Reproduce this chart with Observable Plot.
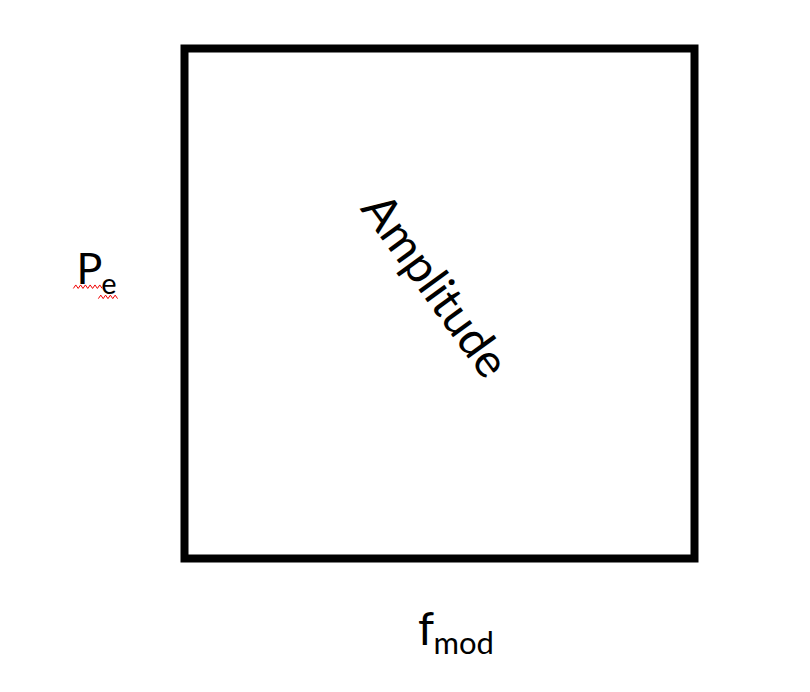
<!DOCTYPE html>
<html>
<head>
<meta charset="utf-8">
<script src="https://cdn.jsdelivr.net/npm/d3@7"></script>
<script src="https://cdn.jsdelivr.net/npm/@observablehq/plot@0.6"></script>
<style>
  html, body { margin: 0; padding: 0; background: #fff; }
  svg text { font-family: Lato, "Open Sans", sans-serif; }
</style>
</head>
<body>
<div id="chart"></div>
<script>
// Annotation texts and their anchor positions (in the frame's unit coordinates)
const centerLabel = ["Amplitude"];
const centerPos = [[0.490, 0.534]];
const yLabelParts = ["P", "e"];
const yLabelPos = [[-0.212, 0.539], [-0.163, 0.519]];
const yLabelSizes = [43, 29];
const xLabelParts = ["f", "mod"];
const xLabelPos = [[0.458, -0.169], [0.488, -0.187]];
const xLabelSizes = [46, 31];

const yData = yLabelParts.map((t, i) => ({t, x: yLabelPos[i][0], y: yLabelPos[i][1], s: yLabelSizes[i]}));
const xData = xLabelParts.map((t, i) => ({t, x: xLabelPos[i][0], y: xLabelPos[i][1], s: xLabelSizes[i]}));
const cData = centerLabel.map((t, i) => ({t, x: centerPos[i][0], y: centerPos[i][1]}));

const chart = Plot.plot({
  width: 810,
  height: 692,
  marginLeft: 184,
  marginRight: 116,
  marginTop: 48,
  marginBottom: 134,
  x: {domain: [0, 1], axis: null},
  y: {domain: [0, 1], axis: null},
  style: {background: "white", overflow: "visible"},
  marks: [
    Plot.frame({stroke: "black", strokeWidth: 8}),
    Plot.text(cData, {x: "x", y: "y", text: "t", rotate: 54, fontSize: 47, fill: "black", textAnchor: "middle", lineAnchor: "middle"}),
    ...yData.map(d => Plot.text([d], {x: "x", y: "y", text: "t", fontSize: d.s, fill: "black", textAnchor: "start", lineAnchor: "bottom"})),
    ...xData.map(d => Plot.text([d], {x: "x", y: "y", text: "t", fontSize: d.s, fill: "black", textAnchor: "start", lineAnchor: "bottom"}))
  ]
});
document.getElementById("chart").appendChild(chart);

// spell-check style red wavy underline under the P_e label (decoration only)
const svg = d3.select(chart);
svg.selectAll("text").filter(function() { return yLabelParts.includes(this.textContent); }).each(function(d, i, nodes) {
  const size = yLabelSizes[yLabelParts.indexOf(this.textContent)];
  const b = this.getBBox();
  const ctm = this.getCTM();
  const x0 = b.x + ctm.e - 3, x1 = b.x + b.width + ctm.e + 2;
  const baseline = b.y + b.height + ctm.f - 0.213 * size;
  const lo = baseline + 5, hi = baseline + 1.5;
  const step = 2.4;
  let p = `M${x0},${lo}`;
  let k = 0;
  for (let x = x0 + step; x <= x1; x += step, k++) p += `L${x},${k % 2 === 0 ? hi : lo}`;
  svg.append("path").attr("d", p).attr("fill", "none").attr("stroke", "#f00000").attr("stroke-width", 1);
});
</script>
</body>
</html>
